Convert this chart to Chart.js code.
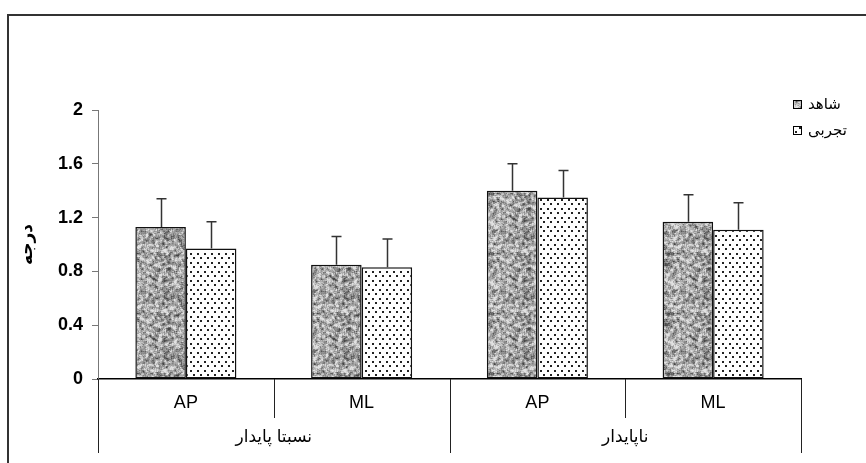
<!DOCTYPE html>
<html>
<head>
<meta charset="utf-8">
<script src="https://cdn.jsdelivr.net/npm/chart.js@4.4.1/dist/chart.umd.min.js"></script>
<style>
  html, body { margin: 0; padding: 0; background: #fff; }
  #wrap { width: 866px; height: 463px; position: relative; }
</style>
</head>
<body>
<div id="wrap"><canvas id="c" width="866" height="463"></canvas></div>
<script>
// Categories and groups
const subLabels = ['AP', 'ML', 'AP', 'ML'];
const groupLabels = ['نسبتا پایدار', 'ناپایدار'];
const seriesNames = ['شاهد', 'تجربی'];
const axisTitle = 'درجه';

// Means and (upper) standard errors
const controlMean = [1.13, 0.85, 1.40, 1.17];
const controlErr  = [0.21, 0.21, 0.20, 0.20];
const trialMean   = [0.97, 0.83, 1.35, 1.11];
const trialErr    = [0.20, 0.21, 0.20, 0.20];

// Y axis ticks
const yTicks = [0, 0.4, 0.8, 1.2, 1.6, 2];

const FONT = "'Liberation Sans', Arial, 'DejaVu Sans', sans-serif";

// Granite-like grey texture for the control bars
function makeGranite() {
  const n = 60;
  const cv = document.createElement('canvas');
  cv.width = n; cv.height = n;
  const g = cv.getContext('2d');
  const hash = (x, y) => {
    const s = Math.sin(((x + n) % n) * 12.9898 + ((y + n) % n) * 78.233) * 43758.5453;
    return s - Math.floor(s);
  };
  const raw = [];
  for (let y = 0; y < n; y++) for (let x = 0; x < n; x++) raw.push(hash(x, y));
  const at = (x, y) => raw[((y + n) % n) * n + ((x + n) % n)];
  const img = g.createImageData(n, n);
  for (let y = 0; y < n; y++) {
    for (let x = 0; x < n; x++) {
      // small blobs plus fine grain
      let s = 0, c = 0;
      for (let dy = -1; dy <= 1; dy++) for (let dx = -1; dx <= 1; dx++) { s += at(x + dx, y + dy); c++; }
      s /= c;
      const fine = at(x * 7 + 3, y * 5 + 1) - 0.5;
      const v = Math.max(70, Math.min(225, Math.round(162 + (s - 0.5) * 380 + fine * 50)));
      const i = (y * n + x) * 4;
      img.data[i] = v; img.data[i + 1] = v; img.data[i + 2] = v; img.data[i + 3] = 255;
    }
  }
  g.putImageData(img, 0, 0);
  return g.createPattern(cv, 'repeat');
}

// Staggered dot pattern for the trial bars
function makeDots() {
  const cv = document.createElement('canvas');
  cv.width = 7; cv.height = 9;
  const g = cv.getContext('2d');
  g.fillStyle = '#fff';
  g.fillRect(0, 0, 7, 9);
  g.fillStyle = '#222';
  g.fillRect(1, 1, 2, 2);
  g.fillRect(4, 5, 2, 2);
  return g.createPattern(cv, 'repeat');
}

const granite = makeGranite();
const dots = makeDots();

// Upward error bars with caps
const errorBars = {
  id: 'errorBars',
  afterDatasetsDraw(chart) {
    const ctx = chart.ctx;
    const y = chart.scales.y;
    ctx.save();
    ctx.strokeStyle = '#333';
    ctx.lineWidth = 1.5;
    chart.data.datasets.forEach((ds, di) => {
      const meta = chart.getDatasetMeta(di);
      meta.data.forEach((bar, i) => {
        const top = y.getPixelForValue(ds.data[i] + ds.errors[i]);
        const x = Math.round(bar.x) + 0.5;
        ctx.beginPath();
        ctx.moveTo(x, bar.y);
        ctx.lineTo(x, top);
        ctx.moveTo(x - 5, top);
        ctx.lineTo(x + 5, top);
        ctx.stroke();
      });
    });
    ctx.restore();
  }
};

// Two-level category axis, legend and frame
const decorations = {
  id: 'decorations',
  afterDraw(chart) {
    const ctx = chart.ctx;
    const xs = chart.scales.x;
    const base = chart.chartArea.bottom;
    const half = (xs.getPixelForValue(1) - xs.getPixelForValue(0)) / 2;
    ctx.save();

    // separators
    ctx.strokeStyle = '#222';
    ctx.lineWidth = 1;
    for (let i = 0; i <= subLabels.length; i++) {
      const x = Math.round(xs.getPixelForValue(0) - half + i * 2 * half) + 0.5;
      const len = (i % 2 === 0) ? 74 : 39;
      ctx.beginPath();
      ctx.moveTo(x, base);
      ctx.lineTo(x, base + len);
      ctx.stroke();
    }

    // sub labels
    ctx.fillStyle = '#000';
    ctx.textAlign = 'center';
    ctx.textBaseline = 'middle';
    ctx.font = '18px ' + FONT;
    subLabels.forEach((t, i) => ctx.fillText(t, xs.getPixelForValue(i), base + 24));

    // group labels
    ctx.font = '17px ' + FONT;
    groupLabels.forEach((t, g) => {
      const cx = (xs.getPixelForValue(g * 2) + xs.getPixelForValue(g * 2 + 1)) / 2;
      ctx.fillText(t, cx, base + 58);
    });

    // legend
    const fills = [granite, dots];
    const ys = [104, 130];
    ctx.textAlign = 'left';
    ctx.font = '15px ' + FONT;
    seriesNames.forEach((t, i) => {
      ctx.fillStyle = fills[i];
      ctx.fillRect(793, ys[i] - 4, 8, 8);
      ctx.strokeStyle = '#000';
      ctx.lineWidth = 1;
      ctx.strokeRect(793.5, ys[i] - 3.5, 8, 8);
      ctx.fillStyle = '#000';
      ctx.fillText(t, 808, ys[i] + 1);
    });

    // outer frame
    ctx.strokeStyle = '#333';
    ctx.lineWidth = 2;
    ctx.strokeRect(8, 15, 900, 500);
    ctx.restore();
  }
};

new Chart(document.getElementById('c'), {
  type: 'bar',
  data: {
    labels: subLabels,
    datasets: [
      {
        label: seriesNames[0],
        data: controlMean,
        errors: controlErr,
        backgroundColor: granite,
        borderColor: '#111',
        borderWidth: 1.5,
        borderSkipped: false
      },
      {
        label: seriesNames[1],
        data: trialMean,
        errors: trialErr,
        backgroundColor: dots,
        borderColor: '#111',
        borderWidth: 1.5,
        borderSkipped: false
      }
    ]
  },
  options: {
    responsive: false,
    devicePixelRatio: 1,
    animation: false,
    events: [],
    layout: { padding: { left: 0, top: 110, right: 65, bottom: 0 } },
    categoryPercentage: 0.575,
    barPercentage: 1.0,
    plugins: {
      legend: { display: false },
      tooltip: { enabled: false }
    },
    scales: {
      x: {
        type: 'category',
        grid: { display: false },
        ticks: { display: false },
        border: { display: true, color: '#000', width: 1.5 },
        afterFit(s) { s.height = 84; }
      },
      y: {
        min: 0,
        max: 2,
        afterBuildTicks(s) { s.ticks = yTicks.map(v => ({ value: v })); },
        ticks: {
          color: '#000',
          padding: 9,
          font: { family: FONT, size: 18, weight: 'bold' },
          callback: v => String(+v.toFixed(1))
        },
        grid: { drawOnChartArea: false, drawTicks: true, tickLength: 6, color: '#777' },
        border: { display: true, color: '#777', width: 1 },
        title: {
          display: true,
          text: axisTitle,
          color: '#000',
          font: { family: FONT, size: 17, weight: 'bold' },
          padding: { top: 17, bottom: 0 }
        },
        afterFit(s) { s.width = 98; }
      }
    }
  },
  plugins: [errorBars, decorations]
});
</script>
</body>
</html>
